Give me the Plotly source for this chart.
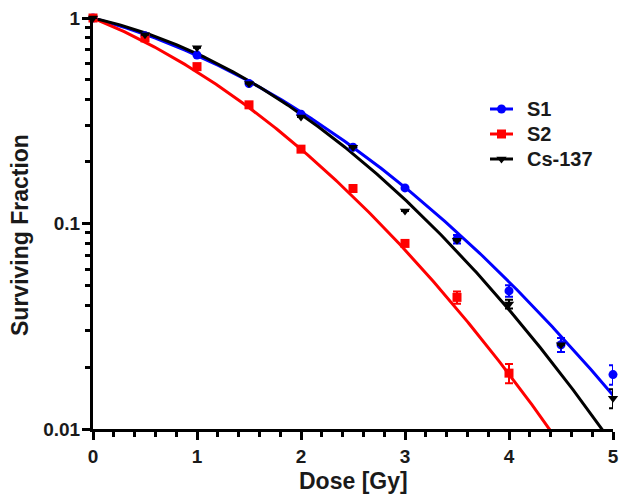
import plotly.graph_objects as go
import numpy as np

dose = [0, 0.5, 1, 1.5, 2, 2.5, 3, 3.5, 4, 4.5, 5]
s1 = [1.0, 0.82, 0.66, 0.48, 0.34, 0.235, 0.149, 0.084, 0.047, 0.0257, 0.0184]
s1_err = [0, 0, 0, 0, 0, 0, 0, 0.004, 0.003, 0.002, 0.002]

dose_s2 = [0, 0.5, 1, 1.5, 2, 2.5, 3, 3.5, 4]
s2 = [1.0, 0.80, 0.58, 0.378, 0.23, 0.148, 0.080, 0.0437, 0.0187]
s2_err = [0, 0, 0, 0, 0, 0, 0, 0.003, 0.002]

dose_cs = [0, 0.5, 1, 1.5, 2, 2.5, 3, 3.5, 4, 4.5, 5]
cs = [1.0, 0.83, 0.716, 0.48, 0.33, 0.235, 0.115, 0.083, 0.0406, 0.0257, 0.0141]
cs_err = [0, 0, 0, 0, 0, 0, 0, 0, 0.002, 0, 0.0015]

# LQ fit parameters (alpha, beta)
fit_s1 = (0.313, 0.1065)
fit_s2 = (0.472, 0.1314)
fit_cs = (0.261, 0.139)

names = ["S1", "S2", "Cs-137"]
colors = ["#0000FF", "#FF0000", "#000000"]
symbols = ["circle", "square", "triangle-down"]

FONT = "Arial, Liberation Sans, sans-serif"
TXT = "#1a1a1a"

# page body has an 8px margin; the figure is shifted by 8px, compensated in the margins
ML, MR, MT, MB = 85, 23, 10, 80
W, H = 628, 501
P_LEFT, P_RIGHT = 8 + ML, 8 + W - MR
P_TOP, P_BOTTOM = 8 + MT, 8 + H - MB

fig = go.Figure()

dfine = np.linspace(0, 5, 301)
for (a, b), c in zip([fit_s1, fit_s2, fit_cs], colors):
    y = np.exp(-(a * dfine + b * dfine ** 2))
    fig.add_trace(go.Scatter(x=dfine, y=y, mode="lines", line=dict(color=c, width=3),
                             showlegend=False, hoverinfo="skip"))

for xs, ys, es, c, sym in zip([dose, dose_s2, dose_cs], [s1, s2, cs], [s1_err, s2_err, cs_err], colors, symbols):
    fig.add_trace(go.Scatter(x=xs, y=ys, mode="markers",
                             marker=dict(color=c, symbol=sym, size=9),
                             error_y=dict(type="data", array=es, color=c, thickness=2, width=4, visible=True),
                             showlegend=False, cliponaxis=False))

# legend drawn on an overlay axis measured in page pixels
leg_x0, leg_x1, leg_text_x = 490, 513, 525
leg_y = [109, 134, 159]
annotations = []
for n, c, sym, ly in zip(names, colors, symbols, leg_y):
    fig.add_trace(go.Scatter(x=[leg_x0, leg_x1], y=[ly, ly], mode="lines", line=dict(color=c, width=3),
                             xaxis="x2", yaxis="y2", showlegend=False, hoverinfo="skip", cliponaxis=False))
    fig.add_trace(go.Scatter(x=[(leg_x0 + leg_x1) / 2], y=[ly], mode="markers",
                             marker=dict(color=c, symbol=sym, size=9),
                             xaxis="x2", yaxis="y2", showlegend=False, hoverinfo="skip", cliponaxis=False))
    annotations.append(dict(text=n, xref="x2", yref="y2", x=leg_text_x, y=ly, xanchor="left", yanchor="middle",
                            showarrow=False, font=dict(size=20, family=FONT, weight="bold", color=TXT)))

annotations += [
    dict(text="Dose [Gy]", xref="paper", yref="paper", x=0.5, y=(P_BOTTOM - 481) / (P_BOTTOM - P_TOP),
         xanchor="center", yanchor="middle",
         showarrow=False, font=dict(size=23, family=FONT, weight="bold", color=TXT)),
    dict(text="Surviving Fraction", xref="paper", yref="paper", x=(20 - P_LEFT) / (P_RIGHT - P_LEFT),
         y=(P_BOTTOM - 235) / (P_BOTTOM - P_TOP), xanchor="center", yanchor="middle",
         textangle=-90, showarrow=False, font=dict(size=23, family=FONT, weight="bold", color=TXT)),
]

fig.update_layout(
    width=W, height=H,
    margin=dict(l=ML, r=MR, t=MT, b=MB),
    paper_bgcolor="white", plot_bgcolor="white",
    font=dict(family=FONT, size=18, color=TXT, weight="bold"),
    showlegend=False,
    xaxis=dict(range=[0, 5], tickvals=[0, 1, 2, 3, 4, 5], ticks="outside",
               ticklen=8, tickwidth=3, tickcolor="black", automargin=False, ticklabeloverflow="allow",
               showline=True, linewidth=3, linecolor="black", showgrid=False, zeroline=False,
               minor=dict(ticks="outside", ticklen=5, tickwidth=3, tickcolor="black", dtick=0.2, showgrid=False),
               tickfont=dict(size=19, family=FONT, weight="bold", color=TXT)),
    yaxis=dict(type="log", range=[-2, 0], tickvals=[0.01, 0.1, 1], ticktext=["0.01", "0.1", "1"],
               ticks="outside", ticklen=8, tickwidth=3, tickcolor="black", automargin=False, ticklabeloverflow="allow",
               ticklabelstandoff=-2,
               showline=True, linewidth=3, linecolor="black", showgrid=False, zeroline=False,
               minor=dict(ticks="outside", ticklen=5, tickwidth=3, tickcolor="black", dtick="D1", showgrid=False),
               tickfont=dict(size=19, family=FONT, weight="bold", color=TXT)),
    xaxis2=dict(overlaying="x", range=[P_LEFT, P_RIGHT], visible=False, fixedrange=True),
    yaxis2=dict(overlaying="y", range=[P_BOTTOM, P_TOP], visible=False, fixedrange=True),
    annotations=annotations,
)

fig.write_html("out.html")
